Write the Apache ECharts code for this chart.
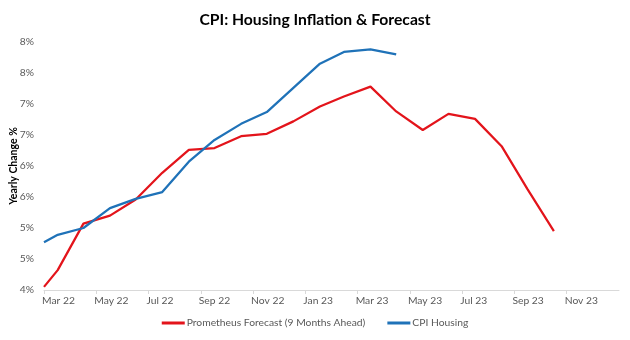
<!DOCTYPE html>
<html>
<head>
<meta charset="utf-8">
<script src="https://cdn.jsdelivr.net/npm/echarts@6/dist/echarts.min.js"></script>
<style>html,body{margin:0;padding:0;background:#fff;}#c{width:630px;height:340px;}</style>
</head>
<body>
<div id="c"></div>
<script>
const AXIS_START = '2022-03-15';
const forecastDates = ['2022-03-15','2022-03-31','2022-04-30','2022-05-31','2022-06-30','2022-07-31','2022-08-31','2022-09-30','2022-10-31','2022-11-30','2022-12-31','2023-01-31','2023-02-28','2023-03-31','2023-04-30','2023-05-31','2023-06-30','2023-07-31','2023-08-31','2023-09-30','2023-10-31'];
const forecastValues = [4.05,4.32,5.07,5.20,5.46,5.89,6.26,6.29,6.48,6.52,6.72,6.96,7.12,7.28,6.88,6.58,6.84,6.76,6.32,5.63,4.95];
const cpiDates = ['2022-03-15','2022-03-31','2022-04-30','2022-05-31','2022-06-30','2022-07-31','2022-08-31','2022-09-30','2022-10-31','2022-11-30','2022-12-31','2023-01-31','2023-02-28','2023-03-31','2023-04-30'];
const cpiValues = [4.77,4.89,5.00,5.32,5.47,5.58,6.07,6.42,6.68,6.87,7.26,7.65,7.84,7.88,7.80];
const xTickLabels = ['Mar 22','May 22','Jul 22','Sep 22','Nov 22','Jan 23','Mar 23','May 23','Jul 23','Sep 23','Nov 23',''];
const seriesNames = ['Prometheus Forecast (9 Months Ahead)','CPI Housing'];

const t0 = Date.parse(AXIS_START);
const toDay = d => (Date.parse(d) - t0) / 86400000;
const TICK = 61;
const font = 'Lato, "Open Sans", sans-serif';

const chart = echarts.init(document.getElementById('c'));
chart.setOption({
  animation: false,
  backgroundColor: '#fff',
  title: {
    text: 'CPI: Housing Inflation & Forecast',
    left: 'center', top: 7,
    textStyle: {fontFamily: font, fontSize: 15.7, fontWeight: 'bold', color: '#000'}
  },
  legend: {
    bottom: 7, left: 'center',
    itemWidth: 23, itemHeight: 3, itemGap: 22,
    icon: 'rect',
    textStyle: {fontFamily: font, fontSize: 10.3, color: '#595959', padding: [0,0,0,-3]},
    data: seriesNames
  },
  grid: {left: 44, right: 11, top: 42, bottom: 50, containLabel: false, outerBoundsMode: 'none'},
  xAxis: {
    type: 'value', min: 0, max: TICK * 11, interval: TICK,
    axisLine: {show: true, lineStyle: {color: '#d9d9d9', width: 1}},
    axisTick: {show: true, length: 4, lineStyle: {color: '#d9d9d9'}},
    splitLine: {show: false},
    axisLabel: {
      align: 'left', margin: 6, showMaxLabel: false, padding: [0,0,0,-2],
      fontFamily: font, fontSize: 10.3, color: '#595959',
      formatter: v => xTickLabels[Math.round(v / TICK)] || ''
    }
  },
  yAxis: {
    type: 'value', min: 4, max: 8, interval: 0.5,
    name: 'Yearly Change %', nameLocation: 'middle', nameGap: 25, nameRotate: 90,
    nameMoveOverlap: false,
    nameTextStyle: {fontFamily: font, fontSize: 10.5, fontWeight: 'bold', color: '#000'},
    axisLine: {show: false}, axisTick: {show: false}, splitLine: {show: false},
    axisLabel: {
      margin: 10, fontFamily: font, fontSize: 10.3, color: '#595959',
      formatter: v => Math.round(v) + '%'
    }
  },
  series: [
    {
      name: seriesNames[0], type: 'line', showSymbol: false, symbol: 'none',
      lineStyle: {color: '#e3141b', width: 2.25}, itemStyle: {color: '#e3141b'},
      data: forecastDates.map((d, i) => [toDay(d), forecastValues[i]])
    },
    {
      name: seriesNames[1], type: 'line', showSymbol: false, symbol: 'none',
      lineStyle: {color: '#1f72b8', width: 2.25}, itemStyle: {color: '#1f72b8'},
      data: cpiDates.map((d, i) => [toDay(d), cpiValues[i]])
    }
  ]
});
</script>
</body>
</html>
